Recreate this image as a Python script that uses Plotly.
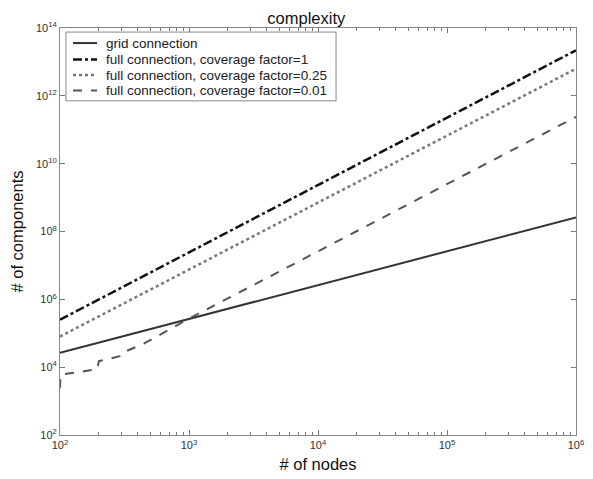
import plotly.graph_objects as go

# Data (log-log)
grid_n = [1e2, 1e6]
grid_v = [2.65e4, 2.6e8]

full1_n = [1e2, 1e6]
full1_v = [2.5e5, 2.2e13]

full025_n = [1e2, 1e6]
full025_v = [8.0e4, 6.3e12]

full001_n = [100, 101, 195, 200, 290, 300, 450, 1000, 1e6]
full001_v = [2400, 6000, 8700, 15000, 21000, 26000, 50000, 2.7e5, 2.4e11]

series_names = ["grid connection",
                "full connection, coverage factor=1",
                "full connection, coverage factor=0.25",
                "full connection, coverage factor=0.01"]

x_tickvals = [1e2, 1e3, 1e4, 1e5, 1e6]
x_ticktext = ["10<sup>2</sup>", "10<sup>3</sup>", "10<sup>4</sup>", "10<sup>5</sup>", "10<sup>6</sup>"]
y_tickvals = [1e2, 1e4, 1e6, 1e8, 1e10, 1e12, 1e14]
y_ticktext = ["10<sup>2</sup>", "10<sup>4</sup>", "10<sup>6</sup>", "10<sup>8</sup>",
              "10<sup>10</sup>", "10<sup>12</sup>", "10<sup>14</sup>"]

styles = [dict(color="#333333", width=2, dash="solid"),
          dict(color="#111111", width=2.5, dash="dashdot"),
          dict(color="#777777", width=2.5, dash="dot"),
          dict(color="#555555", width=2, dash="dash")]

fig = go.Figure()
for (xs, ys), name, st in zip([(grid_n, grid_v), (full1_n, full1_v),
                               (full025_n, full025_v), (full001_n, full001_v)],
                              series_names, styles):
    fig.add_trace(go.Scatter(x=xs, y=ys, mode="lines", name=name, line=st,
                             showlegend=False))

# custom legend (box, line samples, labels) in paper coordinates
shapes = [dict(type="rect", xref="paper", yref="paper", x0=0.0116, x1=0.535,
               y0=0.821, y1=0.990, line=dict(color="#888888", width=1),
               fillcolor="white", layer="above")]
annotations = []
row_y = [0.963, 0.9226, 0.8845, 0.8464]
for yy, name, st in zip(row_y, series_names, styles):
    shapes.append(dict(type="line", xref="paper", yref="paper", x0=0.0252, x1=0.0717,
                       y0=yy, y1=yy, line=st, layer="above"))
    annotations.append(dict(xref="paper", yref="paper", x=0.0853, y=yy, text=name,
                            showarrow=False, xanchor="left", yanchor="middle",
                            font=dict(size=13.5, color="#222222")))

axis_common = dict(
    type="log", showgrid=False, zeroline=False, showline=True, linecolor="#888888",
    linewidth=1, mirror="allticks", ticks="inside", ticklen=5, tickcolor="#777777",
    automargin=False,
    tickfont=dict(family="Liberation Sans, Arial, sans-serif", size=11, color="#333333"),
)

# the page body adds an 8px offset, so the figure is sized to fit the window
fig.update_layout(
    width=585, height=471,
    margin=dict(l=52, r=17, t=20, b=44),
    paper_bgcolor="white", plot_bgcolor="white",
    font=dict(family="Liberation Sans, Arial, sans-serif", color="#111111"),
    title=dict(text="complexity", x=0.51, xanchor="center", y=0.99, yanchor="top",
               font=dict(size=16.5, color="#111111")),
    showlegend=False,
    shapes=shapes,
    annotations=annotations,
)
fig.update_xaxes(**axis_common, range=[2, 6], tickvals=x_tickvals, ticktext=x_ticktext,
                 minor=dict(ticks="inside", ticklen=3, tickcolor="#777777", dtick="D1"),
                 title=dict(text="# of nodes", font=dict(size=16.5), standoff=8))
fig.update_yaxes(**axis_common, range=[2, 14], tickvals=y_tickvals, ticktext=y_ticktext,
                 title=dict(text="# of components", font=dict(size=16.5), standoff=8))

fig.write_html("out.html")
